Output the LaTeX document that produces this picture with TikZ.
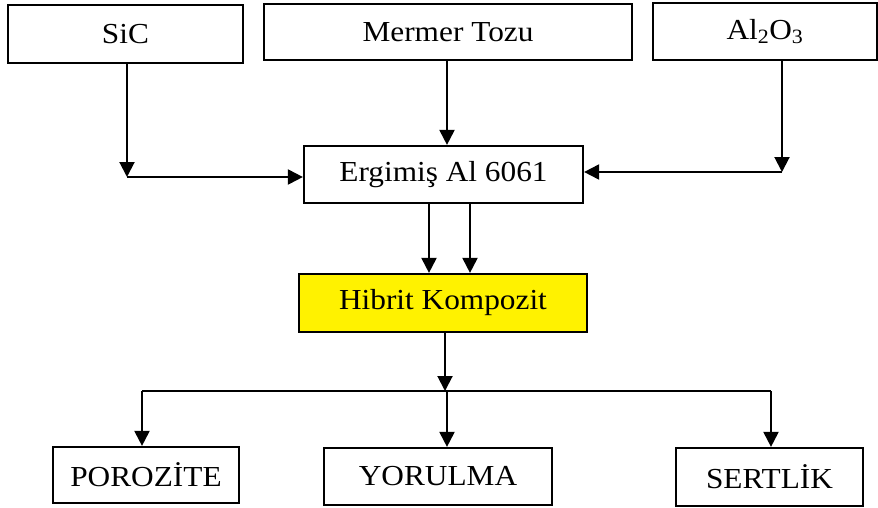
\documentclass[tikz,border=0pt]{standalone}
\usepackage{fontspec}
\setmainfont{Liberation Serif}[FakeStretch=1.08]
\usepackage{tikz}
\usetikzlibrary{arrows.meta}
\usetikzlibrary{positioning}

\begin{document}
\begin{tikzpicture}[x=1pt, y=-1pt]

                \tikzset{
                    box/.style={draw, line width=2.2pt, inner sep=0pt,
                        font=\fontsize{29}{33}\selectfont},
                    flow/.style={line width=2pt,
                        -{Triangle[length=15pt, width=15pt]}},
                    plain/.style={line width=2pt}
                }

                \useasboundingbox (0, 0) rectangle (878, 507);

                % Inputs along the top
                \node[box, minimum width=235, minimum height=58] (sic) at (125.5, 34) {SiC};
                \node[box, minimum width=368, minimum height=56] (mermer) at (448, 32) {Mermer Tozu};
                \node[box, minimum width=224, minimum height=57] (alumina) at (765, 31.5)
                {Al\textsubscript{2}O\textsubscript{3}};

                % Melt and the composite
                \node[box, minimum width=279, minimum height=57] (ergimis) at (443.5, 174.5) {Ergimiş Al 6061};
                \node[box, fill=yellow, minimum width=288, minimum height=58] (hibrit) at (443, 303)
                {Hibrit Kompozit};

                % Tests along the bottom
                \node[box, minimum width=186, minimum height=56] (porozite) at (146, 475) {POROZİTE};
                \node[box, minimum width=228, minimum height=57] (yorulma) at (438, 476.5) {YORULMA};
                \node[box, minimum width=187, minimum height=58] (sertlik) at (769.5, 477) {SERTLİK};

                % Turning points of the connectors
                \coordinate (sicturn) at (127, 177);
                \coordinate (alturn) at (782, 172);
                \coordinate (split) at (445, 391);
                \coordinate (splitleft) at (142, 391);
                \coordinate (splitright) at (771, 391);

                \begin{scope}
                    \draw[flow] (sicturn |- sic.south) -- (sicturn);
                    \draw[flow] (sicturn) -- (sicturn -| ergimis.west);
                    \draw[flow] ([xshift=-1pt]mermer.south) -- ([xshift=-1pt]mermer.south |- ergimis.north);
                    \draw[flow] (alturn |- alumina.south) -- (alturn);
                    \draw[flow] (alturn) -- (alturn -| ergimis.east);
                    \draw[flow] ([xshift=-14.5pt]ergimis.south) -- ([xshift=-14.5pt]ergimis.south |- hibrit.north);
                    \draw[flow] ([xshift=26.5pt]ergimis.south) -- ([xshift=26.5pt]ergimis.south |- hibrit.north);
                    \draw[flow] (split |- hibrit.south) -- (split);
                    \draw[plain] (splitleft) -- (splitright);
                    \draw[flow] (splitleft) -- (splitleft |- porozite.north);
                    \draw[flow] ([xshift=2pt]split) -- ([xshift=2pt]split |- yorulma.north);
                    \draw[flow] (splitright) -- (splitright |- sertlik.north);
                \end{scope}

\end{tikzpicture}
\end{document}
